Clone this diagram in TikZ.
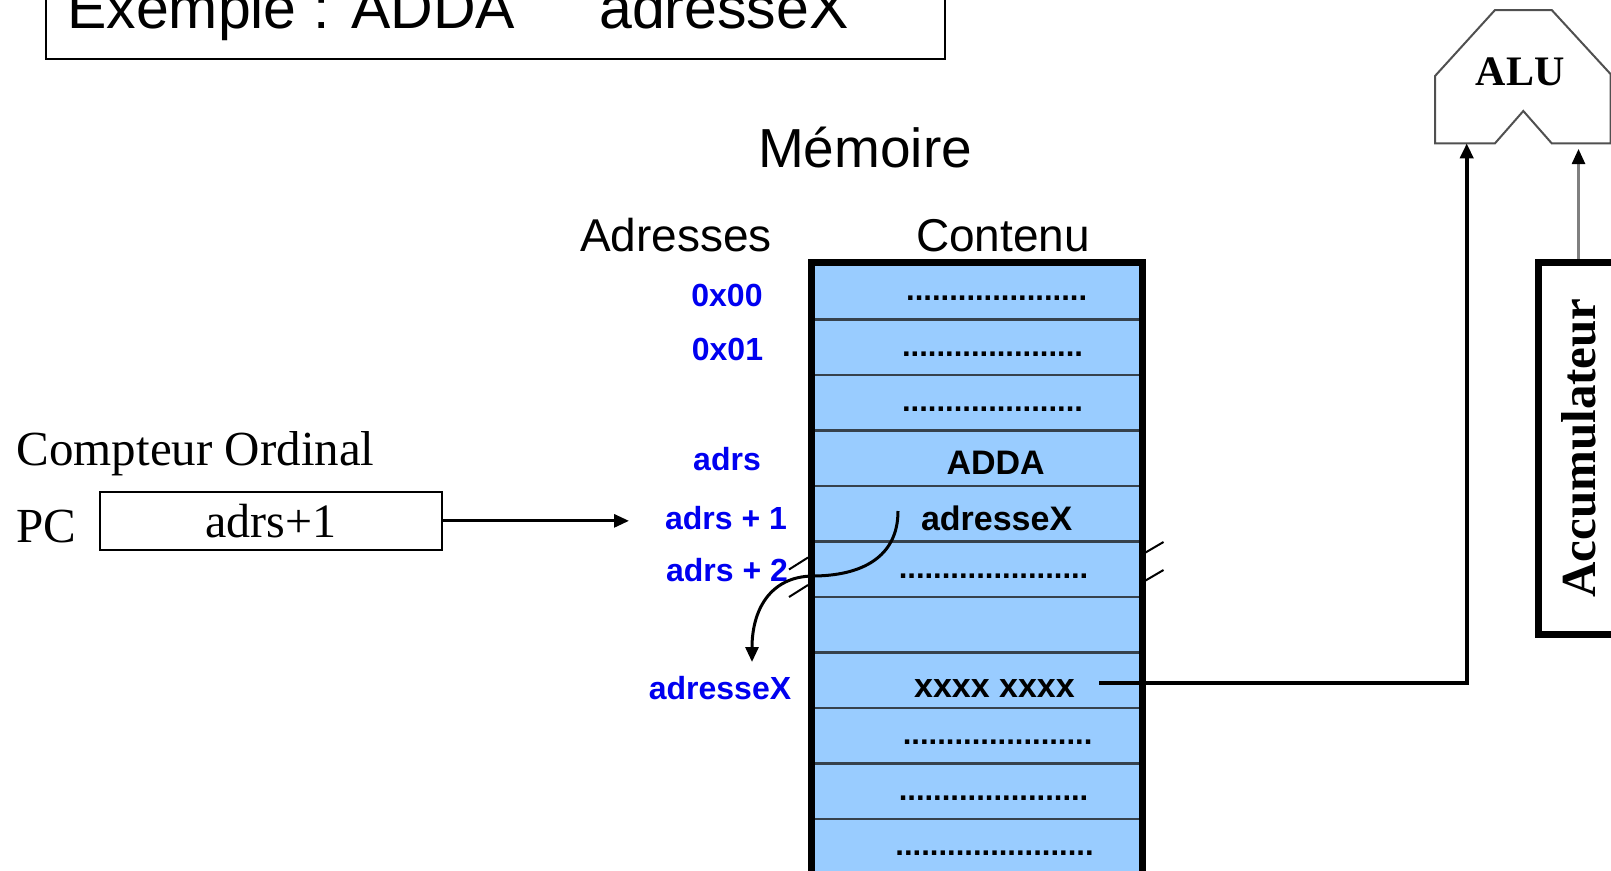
\documentclass[tikz,border=0pt]{standalone}
\usepackage{fontspec}
\setmainfont{Liberation Serif}
\setsansfont{Liberation Sans}
\usetikzlibrary{arrows.meta}
\definecolor{memblue}{HTML}{99CCFF}
\definecolor{adrblue}{HTML}{0000F0}
\definecolor{rowline}{HTML}{36414C}
\definecolor{alugray}{HTML}{505050}
\definecolor{accline}{HTML}{808080}
\begin{document}
\begin{tikzpicture}[x=1pt,y=-1pt,
  cell/.style={draw=rowline, line width=2.5pt, fill=memblue, minimum width=331pt, minimum height=55.5pt, inner sep=0pt, anchor=north west},
  ctext/.style={font=\sffamily\bfseries\fontsize{34}{40}\selectfont, anchor=base, inner sep=0pt},
  dotrow/.style={font=\sffamily\bfseries\fontsize{31}{36}\selectfont, anchor=base, inner sep=0pt},
  adr/.style={font=\sffamily\bfseries\fontsize{32}{38}\selectfont, text=adrblue, anchor=base, inner sep=0pt},
  head/.style={font=\sffamily\fontsize{46}{50}\selectfont, anchor=base, inner sep=0pt},
  serif/.style={font=\rmfamily\fontsize{49}{52}\selectfont, anchor=base west, inner sep=0pt},
  tip/.style={-{Triangle[length=15pt,width=13pt]}},
  hatch/.style={line width=2pt},
]
\useasboundingbox (0,0) rectangle (1611,870);
\begin{scope}
\clip (0,0) rectangle (1611,870);

% title
\draw[line width=2pt] (46,-10) rectangle (945,58.6);
\node[font=\sffamily\fontsize{59}{62}\selectfont, anchor=base west, inner sep=0pt] (t1) at (67,28) {Exemple : ADDA};
\node[font=\sffamily\fontsize{59}{62}\selectfont, anchor=base west, inner sep=0pt] (t2) at (599,28) {adresseX};

% headings
\node[font=\sffamily\fontsize{55}{60}\selectfont, anchor=base, inner sep=0pt] (mem) at (865,167.5) {Mémoire};
\node[head] (hadr) at (676,251) {Adresses};
\node[head] (hcont) at (1003,251) {Contenu};

% memory cells
\foreach \k in {0,...,10}{
  \node[cell] (m\k) at (811,262.8+55.5*\k) {};
}

% cell contents
\node[dotrow] (d0) at (996.6,262.8+38) {.....................};
\node[dotrow] (d1) at (992.5,318.3+38) {.....................};
\node[dotrow] (d2) at (992.5,373.8+38) {.....................};
\node[ctext] (c3) at (995.6,474.7) {ADDA};
\node[ctext] (c4) at (996.6,530) {adresseX};
\node[dotrow] (d5) at (993.5,540.3+38) {......................};
\node[ctext] (c7) at (994.5,697.6) {xxxx xxxx};
\node[dotrow] (d8) at (997.6,706.8+38) {......................};
\node[dotrow] (d9) at (993.5,762.3+38) {......................};
\node[dotrow] (d10) at (994.5,817.8+38) {.......................};

% addresses
\node[adr] (a0) at (727,306) {0x00};
\node[adr] (a1) at (727.5,360.6) {0x01};
\node[adr] (a3) at (727,470.5) {adrs};
\node[adr] (a4) at (726,529) {adrs + 1};
\node[adr] (a5) at (727,581.5) {adrs + 2};
\node[adr] (ax) at (720,699.6) {adresseX};

% curved arrow (indirection)
\coordinate (cs) at (898,511);
\coordinate (ce) at (752,662);
\draw[line width=3pt, tip] (cs) .. controls (898,557) and (862,576) .. (812,576)
      .. controls (770,577) and (752,610) .. (ce);

% memory outer border
\draw[line width=7pt, line join=miter] (811,880) -- (811,262.8) -- (1142,262.8) -- (1142,880);

% break marks
\draw[hatch] (789,569.5) -- (808,557.5);
\draw[hatch] (789,597) -- (808,585);
\draw[hatch] (1143,554) -- (1163.5,542);
\draw[hatch] (1143,582) -- (1163.5,570);

% compteur ordinal
\node[serif] (co) at (16.4,465) {Compteur Ordinal};
\node[serif] (pclab) at (16.4,542.5) {PC};
\node[draw, line width=2pt, minimum width=342pt, minimum height=57.7pt, inner sep=0pt,
      text height=34pt, text depth=0pt, font=\rmfamily\fontsize{48}{50}\selectfont] (pc) at (270.75,520.85) {adrs+1};
\coordinate (pcend) at (629,520.85);
\draw[line width=3pt, tip] (pc.east) -- (pcend);

% ALU
\draw[draw=alugray, line width=2pt, line join=miter] (1435,143.3) -- (1435,76) -- (1495,10) -- (1551.7,10)
  -- (1610.5,74) -- (1610.5,143.3) -- (1551.7,143.3) -- (1523.3,111) -- (1495,143.3) -- cycle;
\node[font=\rmfamily\bfseries\fontsize{42}{46}\selectfont, anchor=base, inner sep=0pt] (alu) at (1520,85) {ALU};
\coordinate (aluin1) at (1466.7,143.3);
\coordinate (aluin2) at (1578.5,149);

% accumulateur
\node[draw, line width=7pt, rotate=90, minimum width=372pt, minimum height=81pt, inner sep=0pt,
      font=\rmfamily\bfseries\fontsize{49}{52}\selectfont] (acc) at (1578.5,448) {Accumulateur};
\draw[draw=accline, line width=2.5pt, -{Triangle[length=15pt,width=13pt,color=black]}] (acc.east) -- (aluin2);

% data path from xxxx xxxx to ALU
\coordinate (xstart) at (1099,683);
\draw[line width=4pt, line join=miter, tip] (xstart) -| (aluin1);

\end{scope}
\end{tikzpicture}
\end{document}
